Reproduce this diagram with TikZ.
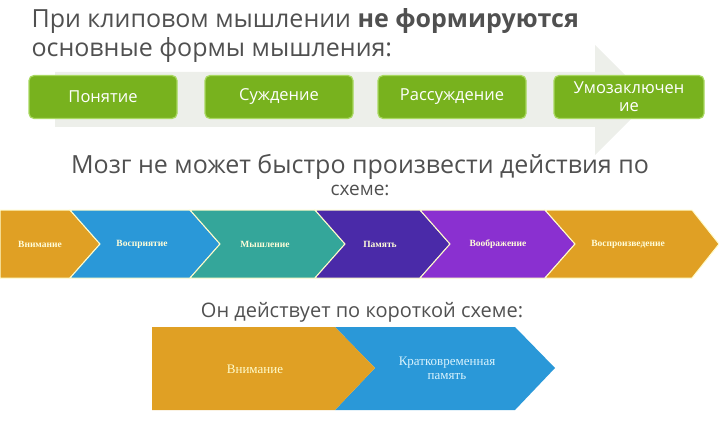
\documentclass[tikz,border=0pt]{standalone}
\usepackage{fontspec}
\setmainfont{Open Sans}
\newfontfamily\chevfont{Liberation Serif}
\newfontfamily\lowfont{Liberation Serif}
\definecolor{gtxt}{HTML}{505050}
\definecolor{gbox}{HTML}{78B21E}
\definecolor{gedge}{HTML}{A8D860}
\definecolor{bgarr}{HTML}{EDEFEA}
\definecolor{cor}{HTML}{E0A024}
\definecolor{cbl}{HTML}{2A98D8}
\definecolor{ctl}{HTML}{34A69A}
\definecolor{cin}{HTML}{4A2AA8}
\definecolor{cpu}{HTML}{8A30D0}
\tikzset{
 gbx/.style={draw=gedge,line width=1.2pt,fill=gbox,rounded corners=5pt,minimum width=148pt,minimum height=43pt,text=white,font=\fontsize{16.5}{18}\selectfont,align=center,inner sep=1pt},
 chev/.style={draw=white!80!yellow,line width=1pt},
 chl/.style={font=\chevfont\bfseries\fontsize{9.5}{10}\selectfont,text=white!85!yellow},
 ttl/.style={text=gtxt,font=\fontsize{25}{28}\selectfont},
}
\begin{document}
\begin{tikzpicture}[x=1pt,y=-1pt]
\useasboundingbox (0,0) rectangle (719,422);
% background arrow
\fill[bgarr] (55,72) -- (595,72) -- (595,45) -- (650,100) -- (595,155) -- (595,127) -- (55,127) -- cycle;
\node[ttl,anchor=west] (t1) at (28,21) {При клиповом мышлении \textbf{не формируются}};
\node[ttl,anchor=west] (t2) at (28,50) {основные формы мышления:};
\node[gbx] (b1) at (103,97) {Понятие};
\node[gbx] (b2) at (279,97) {Суждение};
\node[gbx] (b3) at (452,97) {Рассуждение};
\node[gbx,minimum width=150pt] (b4) at (629,97) {Умозаключен\\ие};
\node[ttl,align=center] (t3) at (360,175) {Мозг не может быстро произвести действия по\\[-6pt]\fontsize{19}{20}\selectfont схеме:};
% chevrons
\fill[cor,chev] (0,210) -- (70,210) -- (100,244) -- (70,278) -- (0,278) -- cycle;
\fill[cbl,chev] (70,210) -- (190,210) -- (220,244) -- (190,278) -- (70,278) -- (100,244) -- cycle;
\fill[ctl,chev] (190,210) -- (315,210) -- (345,244) -- (315,278) -- (190,278) -- (220,244) -- cycle;
\fill[cin,chev] (315,210) -- (420,210) -- (450,244) -- (420,278) -- (315,278) -- (345,244) -- cycle;
\fill[cpu,chev] (420,210) -- (545,210) -- (575,244) -- (545,278) -- (420,278) -- (450,244) -- cycle;
\fill[cor,chev] (545,210) -- (692,210) -- (719,244) -- (692,278) -- (545,278) -- (575,244) -- cycle;
\node[chl] (c1) at (40,244) {Внимание};
\node[chl] (c2) at (142,244) {Восприятие};
\node[chl] (c3) at (265,244) {Мышление};
\node[chl] (c4) at (380,244) {Память};
\node[chl] (c5) at (498,244) {Воображение};
\node[chl] (c6) at (628,244) {Воспроизведение};
\node[ttl,font=\fontsize{20}{22}\selectfont] (t4) at (362,312) {Он действует по короткой схеме:};
\fill[cbl] (335,327) -- (515,327) -- (555,368) -- (515,410) -- (335,410) -- (375,368) -- cycle;
\fill[cor] (152,327) -- (335,327) -- (375,368) -- (335,410) -- (152,410) -- cycle;
\node[text=white!80!yellow,font=\lowfont\fontsize{13}{14}\selectfont] (d1) at (255,369) {Внимание};
\node[text=white!85!cyan,font=\lowfont\fontsize{13}{14}\selectfont,align=center] (d2) at (447,368) {Кратковременная\\память};
\end{tikzpicture}
\end{document}
